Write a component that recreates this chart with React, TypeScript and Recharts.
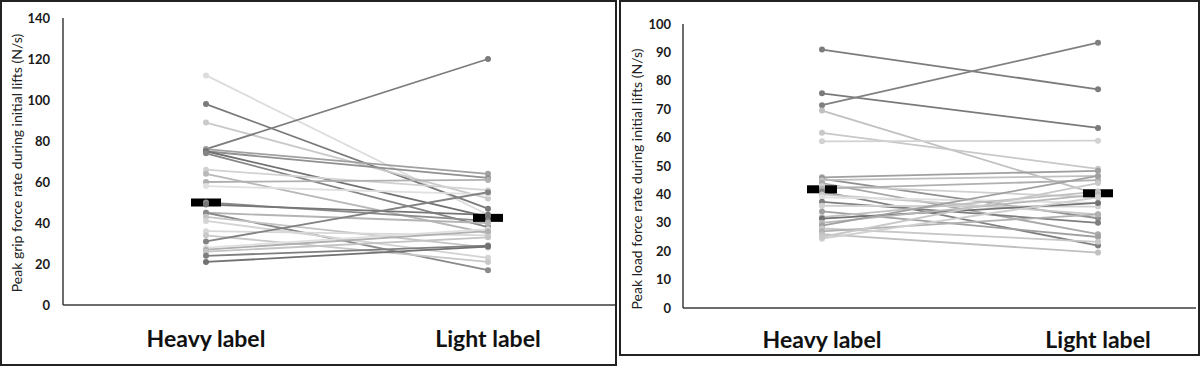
import React from 'react';
import { LineChart, Line, XAxis, YAxis } from 'recharts';

const categories = ['Heavy label', 'Light label'];

const gripTicks = [0, 20, 40, 60, 80, 100, 120, 140];
const gripHeavy = [112, 98, 89, 76, 76, 75, 75, 74, 66, 64, 60, 58, 50, 49, 45, 45, 43, 41, 36, 34, 31, 28, 27, 26, 24, 21];
const gripLight = [44, 47, 52, 120, 64, 62, 43, 38, 56, 35, 61, 54, 41, 44, 40, 17, 28, 23, 34, 21, 55, 37, 36, 33, 29, 28.5];
const gripMeans = [50, 42.5];
const gripShades = ['#dcdcdc', '#7a7a7a', '#cacaca', '#7c7c7c', '#a0a0a0', '#909090', '#707070', '#858585', '#d2d2d2', '#b8b8b8', '#b0b0b0', '#e0e0e0', '#8c8c8c', '#767676', '#b4b4b4', '#8a8a8a', '#c4c4c4', '#d4d4d4', '#d8d8d8', '#c8c8c8', '#828282', '#e0e0e0', '#b0b0b0', '#c4c4c4', '#7e7e7e', '#727272'];

const loadTicks = [0, 10, 20, 30, 40, 50, 60, 70, 80, 90, 100];
const loadHeavy = [91, 75.6, 71.4, 69.5, 61.7, 58.7, 46, 45.5, 45, 44, 43, 42, 41, 40, 39, 37.4, 36, 34, 32, 31.5, 30, 29, 28, 27, 26, 24.4, 25];
const loadLight = [77, 63.4, 93.4, 40, 49, 58.9, 48.3, 31.6, 46.5, 26, 39, 45, 22, 33, 37, 30, 35.7, 25, 41, 37, 40, 46.5, 23.3, 33, 19.5, 39, 44];
const loadMeans = [41.8, 40.4];
const loadShades = ['#7c7c7c', '#7a7a7a', '#808080', '#c0c0c0', '#c8c8c8', '#d2d2d2', '#a0a0a0', '#909090', '#c0c0c0', '#a8a8a8', '#d0d0d0', '#b0b0b0', '#808080', '#c8c8c8', '#e0e0e0', '#7e7e7e', '#d0d0d0', '#a0a0a0', '#c0c0c0', '#727272', '#b8b8b8', '#a0a0a0', '#c8c8c8', '#b0b0b0', '#c0c0c0', '#d0d0d0', '#c8c8c8'];

const FONT = 'Lato, "Open Sans", sans-serif';

function buildRows(heavy: number[], light: number[], means: number[]) {
  return categories.map((c, i) => {
    const row: Record<string, number | string> = { pos: i + 1, name: c, mean: means[i] };
    heavy.forEach((h, j) => {
      row['s' + j] = i === 0 ? h : light[j];
    });
    return row;
  });
}

const MeanMarker = (props: any) => {
  const { cx, cy, index } = props;
  if (cx == null || cy == null) return <g key={'m' + index} />;
  return <rect key={'m' + index} x={cx - 15} y={cy - 4} width={30} height={8} fill="#000" />;
};

const makeXTick = (dy: number) => (props: any) => {
  const { x, y, payload } = props;
  return (
    <text x={x} y={y + dy} textAnchor="middle" fontFamily={FONT} fontWeight={700} fontSize={23} fill="#111">
      {categories[payload.value - 1]}
    </text>
  );
};

type PanelProps = {
  width: number;
  heavy: number[];
  light: number[];
  means: number[];
  shades: string[];
  ticks: number[];
  yMax: number;
  top: number;
  xAxisHeight: number;
  yAxisWidth: number;
  right: number;
  domain: [number, number];
  yLabel: string;
  labelX: number;
  labelY: number;
  tickDy: number;
  tickMargin: number;
};

function Panel(p: PanelProps) {
  const rows = buildRows(p.heavy, p.light, p.means);
  return (
    <LineChart width={p.width} height={366} data={rows} margin={{ top: p.top, right: p.right, bottom: 0, left: 0 }}>
      <XAxis
        type="number"
        dataKey="pos"
        domain={p.domain}
        ticks={[1, 2]}
        allowDataOverflow
        tickLine={false}
        tickSize={0}
        tickMargin={0}
        height={p.xAxisHeight}
        axisLine={{ stroke: '#3c3c3c', strokeWidth: 1.5 }}
        tick={makeXTick(p.tickDy)}
      />
      <YAxis
        type="number"
        domain={[0, p.yMax]}
        ticks={p.ticks}
        interval={0}
        width={p.yAxisWidth}
        tickLine={false}
        tickSize={0}
        tickMargin={p.tickMargin}
        axisLine={{ stroke: '#3c3c3c', strokeWidth: 1.5 }}
        tick={{ fontFamily: FONT, fontWeight: 700, fontSize: 13, fill: '#1a1a1a' }}
        label={{
          content: () => (
            <text
              x={p.labelX}
              y={p.labelY}
              transform={`rotate(-90 ${p.labelX} ${p.labelY})`}
              textAnchor="middle"
              dominantBaseline="central"
              fontFamily={FONT}
              fontSize={14}
              fill="#222"
            >
              {p.yLabel}
            </text>
          ),
        }}
      />
      <Line dataKey="mean" stroke="none" isAnimationActive={false} dot={MeanMarker} activeDot={false} legendType="none" />
      {p.heavy.map((_, j) => (
        <Line
          key={'s' + j}
          dataKey={'s' + j}
          stroke={p.shades[j]}
          strokeWidth={1.8}
          isAnimationActive={false}
          dot={{ r: 3, fill: p.shades[j], stroke: p.shades[j], strokeWidth: 0 }}
          activeDot={false}
        />
      ))}
    </LineChart>
  );
}

export default function App() {
  return (
    <div style={{ position: 'fixed', left: 0, top: 0, width: 1200, height: 366, background: '#fff' }}>
      <div style={{ position: 'absolute', left: 0, top: 0, width: 617, height: 366 }}>
        <Panel
          width={617}
          heavy={gripHeavy}
          light={gripLight}
          means={gripMeans}
          shades={gripShades}
          ticks={gripTicks}
          yMax={140}
          top={18}
          xAxisHeight={61}
          yAxisWidth={63}
          right={2}
          domain={[0.4929, 2.4504]}
          yLabel="Peak grip force rate during initial lifts (N/s)"
          labelX={16}
          labelY={163}
          tickDy={42}
          tickMargin={13}
        />
      </div>
      <div style={{ position: 'absolute', left: 619, top: 0, width: 581, height: 366 }}>
        <Panel
          width={581}
          heavy={loadHeavy}
          light={loadLight}
          means={loadMeans}
          shades={loadShades}
          ticks={loadTicks}
          yMax={100}
          top={24}
          xAxisHeight={58}
          yAxisWidth={64}
          right={4}
          domain={[0.4964, 2.355]}
          yLabel="Peak load force rate during initial lifts (N/s)"
          labelX={17}
          labelY={179}
          tickDy={40}
          tickMargin={12}
        />
      </div>
      <div style={{ position: 'absolute', left: 0, top: 0, width: 617, height: 366, border: '2px solid #222', boxSizing: 'border-box', pointerEvents: 'none' }} />
      <div style={{ position: 'absolute', left: 619, top: 0, width: 581, height: 356, border: '2px solid #222', boxSizing: 'border-box', pointerEvents: 'none' }} />
    </div>
  );
}
